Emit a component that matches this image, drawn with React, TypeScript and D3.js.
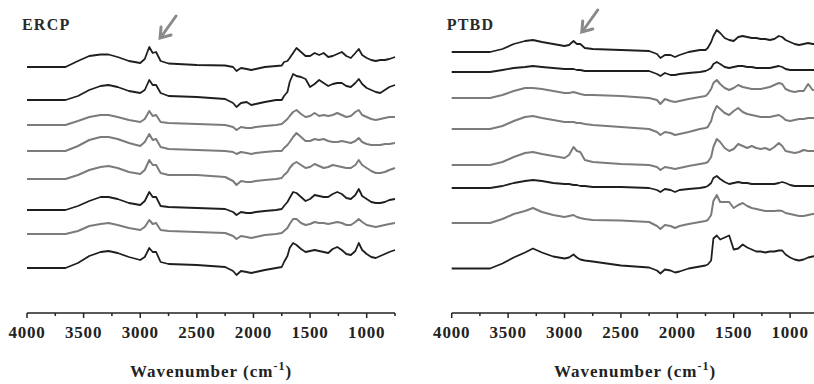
import React from "react";
import * as d3 from "d3";

// Wavenumber grid (cm-1) at which the spectra were read
const WN = [4000,3660,3550,3450,3350,3280,3200,3100,3000,
  2960,2920,2890,2860,2820,2750,
  2500,2250,2180,2150,2110,2060,2020,1980,1900,1800,1750,
  1730,1700,1680,1650,1620,1580,1540,1500,
  1460,1420,1380,1340,1300,1260,1220,1180,1140,1100,1070,1040,
  1000,960,920,880,840,800,750];

// ERCP spectra (absorbance, a.u., relative to own baseline)
const ERCP_1 = [0,0,6,11,12.5,12.5,10,6,4, 8,20,14,15,6,3.5, 2,1.5,0,-4,-1,-2,-3,-2,0,1,1.5, 5,6,9,14,19,15,11,11, 14,12,14,10,11,13,15,11,9,14,18,12, 9,7,6,7,7,8,10];
const ERCP_2 = [0,0,4,10,14,15,13,9,7, 10,20,15,15,7,4, 3,1,-3,-7,-3,-2,-5,-4,-2,0,0, 4,8,18,26,24,23,21,13, 16,20,17,14,16,17,17,14,13,17,21,16, 12,10,8,7,10,13,15];
const ERCP_3 = [0,0,4,8,10,10,8,5,3, 6,14,9,10,3,2, 1,0,-2,-5,-2,-3,-3,-2,-1,0,1, 3,6,9,13,15,11,8,9, 12,9,10,9,10,12,10,8,9,13,15,10, 8,6,5,6,7,8,8];
const ERCP_4 = [0,0,5,11,14,14,12,8,5, 9,17,11,12,4,2, 1,0,-1,-3,-1,-2,-3,-2,-1,0,0, 3,6,9,14,18,14,10,10, 12,11,12,10,9,9,10,9,8,10,13,9, 7,6,6,6,7,7,8];
const ERCP_5 = [0,0,4,9,12,13,11,7,5, 9,19,14,14,6,4, 4,2,-2,-6,-2,-3,-3,-2,-1,0,1, 4,7,11,15,17,14,11,12, 15,13,11,12,14,13,12,11,11,14,19,14, 11,8,6,6,7,9,11];
const ERCP_6 = [0,0,4,9,13,13,11,7,5, 9,18,13,13,4,3, 2,1,-2,-5,-2,-3,-3,-2,-1,0,1, 4,8,12,18,17,13,9,11, 15,14,13,13,16,18,16,12,11,15,21,14, 11,8,7,7,8,10,11];
const ERCP_7 = [0,0,3,8,10,11,9,6,4, 7,14,10,11,4,3, 2,1,-2,-5,-2,-3,-4,-3,-1,0,1, 3,6,10,15,15,11,9,10, 12,11,11,10,11,12,11,9,9,12,15,12, 9,8,7,8,9,10,11];
const ERCP_8 = [0,0,5,12,16,17,15,11,8, 11,20,16,16,6,4, 3,1,-3,-7,-3,-4,-5,-4,-2,0,1, 6,12,20,25,23,19,16,17, 18,17,16,15,19,21,18,14,13,17,25,18, 14,11,10,12,14,16,18];

// PTBD spectra
const PTBD_1 = [0,0,3,8,11,12,10,8,6, 7,11,8,8,4,3, 2,1,-2,-6,-3,-3,-5,-3,0,2,2, 4,10,16,22,19,14,12,11, 15,16,15,14,14,13,13,12,13,16,15,12, 10,8,7,8,9,8,8];
const PTBD_2 = [0,0,2,4,5,6,5,4,3, 3,3,2,2,1,1, 1,1,-2,-4,-1,-3,-3,-2,-1,0,1, 2,4,8,10,8,5,4,5, 6,6,5,5,4,4,4,4,5,6,5,3, 2,2,2,2,2,2,2];
const PTBD_3 = [0,0,3,7,10,10,9,7,5, 5,6,5,4,3,3, 2,0,-2,-6,-1,-3,-4,-3,-1,1,2, 4,9,15,18,14,10,8,10, 13,11,10,9,9,9,10,11,13,15,14,9, 7,6,7,7,14,8,8];
const PTBD_4 = [0,0,3,8,12,13,11,9,7, 7,7,6,6,5,4, 2,0,-3,-6,-3,-4,-6,-5,-3,0,1, 2,8,16,23,20,16,14,18, 21,17,15,14,13,12,12,12,13,14,12,9, 8,9,10,10,11,11,11];
const PTBD_5 = [0,0,3,8,12,13,11,9,7, 10,18,14,13,5,3, 1,0,-2,-5,-2,-3,-4,-3,-1,1,2, 3,8,18,26,23,17,14,16, 21,19,17,19,17,16,17,15,18,22,19,14, 13,12,13,15,14,14,14];
const PTBD_6 = [0,0,2,5,7,8,7,5,4, 4,3,3,2,2,1, 1,0,-2,-4,-1,-2,-4,-2,-1,0,1, 2,5,10,12,9,6,4,5, 6,5,5,4,4,4,4,4,4,5,6,5, 3,2,2,2,2,2,2];
const PTBD_7 = [0,0,4,9,12,15,11,8,6, 7,8,6,5,4,3, 2.6,1,-3,-6,-2,-3,-5,-3,-1,1,2, 3,8,22,28,21,21,21,15, 18,20,17,15,14,13,12,12,12,12.6,12,10, 9,8,7,7,8,9,9];
const PTBD_8 = [0,0,5,11,16,20,16,12,10, 11,14,11,9,8,7, 3,1,-2,-5,-1,-2,-4,-3,0,2,3, 4,8,30,33,29,31,33,19, 20,24,21,19,17,17,16,17,17,18,18,14, 11,9,8,9,11,12,13];

// Stacking offsets (a.u.) and tone of each trace (0 = dark, 1 = grey)
const ERCP_SERIES = [ERCP_1, ERCP_2, ERCP_3, ERCP_4, ERCP_5, ERCP_6, ERCP_7, ERCP_8];
const ERCP_OFFSETS = [246, 213, 188, 162, 134, 103, 79, 45];
const ERCP_TONES = [0, 0, 1, 1, 1, 0, 1, 0];
const PTBD_SERIES = [PTBD_1, PTBD_2, PTBD_3, PTBD_4, PTBD_5, PTBD_6, PTBD_7, PTBD_8];
const PTBD_OFFSETS = [261, 241, 215, 184, 148, 125, 90, 44.5];
const PTBD_TONES = [0, 0, 1, 1, 1, 0, 1, 0];

const MAJOR_TICKS = [4000, 3500, 3000, 2500, 2000, 1500, 1000];
const MINOR_TICKS = [3750, 3250, 2750, 2250, 1750, 1250, 750];
const X_DOMAIN = [4000, 750];
const Y_DOMAIN = [0, 300];

// annotation arrow tips (wavenumber, a.u.)
const ERCP_ARROW = [2825, 275];
const PTBD_ARROW = [2847, 281];

const FONT = "'Liberation Serif', 'DejaVu Serif', serif";
const DARK = "#1f1f1f";
const GREY = "#7b7b7b";

function Panel({ title, series, offsets, tones, arrow, x0, x1 }) {
  const x = d3.scaleLinear().domain(X_DOMAIN).range([x0, x1]);
  const y = d3.scaleLinear().domain(Y_DOMAIN).range([313, 13]);
  const axisY = 313;
  const line = (vals, off) =>
    d3.line().x((d, i) => x(WN[i])).y((d) => y(d + off))(vals);
  const [aw, av] = arrow;
  const tx = x(aw), ty = y(av);
  return (
    <g>
      <text x={x0 - 5} y={30} fontFamily={FONT} fontWeight="bold" fontSize={16} letterSpacing={1.2} fill="#2a2a2a">{title}</text>
      {series.map((vals, k) => (
        <path key={k} d={line(vals, offsets[k])} fill="none"
          stroke={tones[k] ? GREY : DARK} strokeWidth={tones[k] ? 2 : 1.8} strokeLinejoin="round" />
      ))}
      <g stroke="#8a8a8a" strokeWidth={3} fill="none" strokeLinecap="round">
        <line x1={tx + 16} y1={ty - 22} x2={tx + 1} y2={ty - 1} />
        <polyline points={`${tx + 1},${ty - 11} ${tx},${ty} ${tx + 11},${ty - 3}`} strokeLinejoin="miter" />
      </g>
      <line x1={x0} x2={x1} y1={axisY} y2={axisY} stroke="#222" strokeWidth={1.5} />
      {MAJOR_TICKS.map((t) => (
        <g key={t}>
          <line x1={x(t)} x2={x(t)} y1={axisY} y2={axisY + 5} stroke="#222" strokeWidth={1.5} />
          <text x={x(t)} y={338} textAnchor="middle" fontFamily={FONT} fontWeight="bold" fontSize={17} letterSpacing={0.8} fill="#222">{t}</text>
        </g>
      ))}
      {MINOR_TICKS.map((t) => (
        <line key={t} x1={x(t)} x2={x(t)} y1={axisY} y2={axisY + 3} stroke="#222" strokeWidth={1.5} />
      ))}
      <text x={(x0 + x1) / 2} y={377} textAnchor="middle" fontFamily={FONT} fontWeight="bold" fontSize={17} letterSpacing={1} fill="#222">
        Wavenumber (cm<tspan dy={-7} fontSize={12}>-1</tspan><tspan dy={7}>)</tspan>
      </text>
    </g>
  );
}

export default function App() {
  return (
    <svg width={814} height={384} style={{ position: "absolute", left: 0, top: 0, background: "#fff" }}>
      <rect width={814} height={384} fill="#fff" />
      <Panel title="ERCP" series={ERCP_SERIES} offsets={ERCP_OFFSETS} tones={ERCP_TONES} arrow={ERCP_ARROW} x0={27} x1={395} />
      <Panel title="PTBD" series={PTBD_SERIES} offsets={PTBD_OFFSETS} tones={PTBD_TONES} arrow={PTBD_ARROW} x0={451.7} x1={818.3} />
    </svg>
  );
}
